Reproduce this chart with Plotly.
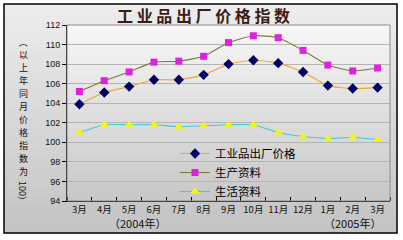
import plotly.graph_objects as go

months = ["3月", "4月", "5月", "6月", "7月", "8月", "9月", "10月", "11月", "12月", "1月", "2月", "3月"]
industrial = [103.9, 105.1, 105.7, 106.4, 106.4, 106.9, 108.0, 108.4, 108.1, 107.2, 105.8, 105.5, 105.6]
production = [105.2, 106.3, 107.2, 108.2, 108.3, 108.8, 110.2, 110.9, 110.7, 109.4, 107.9, 107.3, 107.6]
living = [101.0, 101.8, 101.8, 101.8, 101.6, 101.7, 101.8, 101.8, 101.0, 100.6, 100.4, 100.5, 100.3]
series_names = ["工业品出厂价格", "生产资料", "生活资料"]
yticks = [94, 96, 98, 100, 102, 104, 106, 108, 110, 112]
title_text = "工业品出厂价格指数"
ytitle_open = "（"
ytitle_cjk = "以上年同月价格指数为"
ytitle_tail = "100）"
year_labels = ["（2004年）", "（2005年）"]

W, H = 403, 240
L, R, T, B = 67, 390, 25, 201
pw, ph = R - L, B - T


def px(x):
    return (x - L) / pw


def py(y):
    return (B - y) / ph


def mix(c1, c2, t):
    return "rgb(%d,%d,%d)" % tuple(round(a + (b - a) * t) for a, b in zip(c1, c2))


xs = list(range(len(months)))
fig = go.Figure()
fig.add_trace(go.Scatter(x=xs, y=industrial, name=series_names[0], mode="lines+markers",
                         line=dict(color="#f0a438", width=1.1, shape="spline", smoothing=0.5),
                         marker=dict(symbol="diamond", size=8, color="#000066")))
fig.add_trace(go.Scatter(x=xs, y=production, name=series_names[1], mode="lines+markers",
                         line=dict(color="#807830", width=1.1, shape="spline", smoothing=0.5),
                         marker=dict(symbol="square", size=7, color="#e020e0")))
fig.add_trace(go.Scatter(x=xs, y=living, name=series_names[2], mode="lines+markers",
                         line=dict(color="#40c8e0", width=1.1, shape="spline", smoothing=0.5),
                         marker=dict(symbol="triangle-up", size=8, color="#f8f800")))

shapes = []
n = 24
top, bot = 4, 233
for i in range(n):
    y0 = top + (bot - top) * i / n
    y1 = top + (bot - top) * (i + 1) / n + 0.5
    shapes.append(dict(type="rect", xref="paper", yref="paper", x0=px(4), x1=px(397),
                       y0=py(y1), y1=py(y0), line=dict(width=0),
                       fillcolor=mix((236, 236, 236), (196, 196, 196), i / (n - 1)), layer="below"))
for i in range(n):
    y0 = T + ph * i / n
    y1 = T + ph * (i + 1) / n + 0.5
    shapes.append(dict(type="rect", xref="paper", yref="paper", x0=0, x1=1,
                       y0=py(y1), y1=py(y0), line=dict(width=0),
                       fillcolor=mix((246, 246, 246), (200, 200, 200), i / (n - 1)), layer="below"))
shapes.append(dict(type="rect", xref="paper", yref="paper", x0=0, x1=1, y0=0, y1=1,
                   line=dict(color="#8c8c8c", width=1), fillcolor="rgba(0,0,0,0)", layer="above"))
shapes.append(dict(type="rect", xref="paper", yref="paper", x0=px(4), x1=px(397), y0=py(233), y1=py(4),
                   line=dict(color="black", width=1.5), fillcolor="rgba(0,0,0,0)", layer="above"))

annotations = []
tfont = dict(color="#111111", family="Noto Sans CJK SC")
annotations.append(dict(text=ytitle_open, xref="paper", yref="paper", x=px(23), y=py(42),
                        showarrow=False, xanchor="center", yanchor="middle", textangle=90,
                        font=dict(size=9, **tfont)))
for i, ch in enumerate(ytitle_cjk):
    annotations.append(dict(text=ch, xref="paper", yref="paper", x=px(23), y=py(54 + 13.1 * i),
                            showarrow=False, xanchor="center", yanchor="middle",
                            font=dict(size=9, **tfont)))
annotations.append(dict(text=ytitle_tail, xref="paper", yref="paper", x=px(23), y=py(193),
                        showarrow=False, xanchor="center", yanchor="middle", textangle=90,
                        font=dict(size=9, **tfont)))
for lab, xx in zip(year_labels, [137, 352]):
    annotations.append(dict(text=lab, xref="paper", yref="paper", x=px(xx), y=py(223),
                            showarrow=False, xanchor="center", yanchor="middle",
                            font=dict(size=11, **tfont)))
annotations.append(dict(text="<b>" + " ".join(title_text) + "</b>", xref="paper", yref="paper",
                        x=px(203), y=py(15), showarrow=False, xanchor="center", yanchor="middle",
                        font=dict(size=16, color="#3a1c12", family="Noto Sans CJK SC")))

fig.update_layout(
    width=W, height=H,
    margin=dict(l=L, r=W - R, t=T, b=H - B),
    paper_bgcolor="white", plot_bgcolor="rgba(0,0,0,0)",
    showlegend=True,
    legend=dict(x=px(175), y=py(139), xanchor="left", yanchor="top",
                bgcolor="rgba(0,0,0,0)", borderwidth=0,
                font=dict(size=11.5, color="#000000", family="Noto Sans CJK SC"),
                tracegroupgap=0),
    shapes=shapes,
    annotations=annotations,
    xaxis=dict(range=[-0.5, len(months) - 0.5], tickvals=xs, ticktext=months,
               showgrid=False, zeroline=False, showline=True, linecolor="black", linewidth=1,
               ticks="", tickfont=dict(size=9.5, color="#111111", family="Noto Sans CJK SC"),
               minor=dict(tick0=-0.5, dtick=1, ticks="inside", ticklen=4, tickcolor="black", showgrid=False)),
    yaxis=dict(range=[94, 112], tickvals=yticks, showgrid=True, gridcolor="#b4b4b4", gridwidth=1,
               zeroline=False, showline=True, linecolor="black", linewidth=1,
               ticks="outside", ticklen=4, tickcolor="black",
               tickfont=dict(size=9, color="#111111", family="Liberation Sans")),
)

fig.write_html("out.html")
